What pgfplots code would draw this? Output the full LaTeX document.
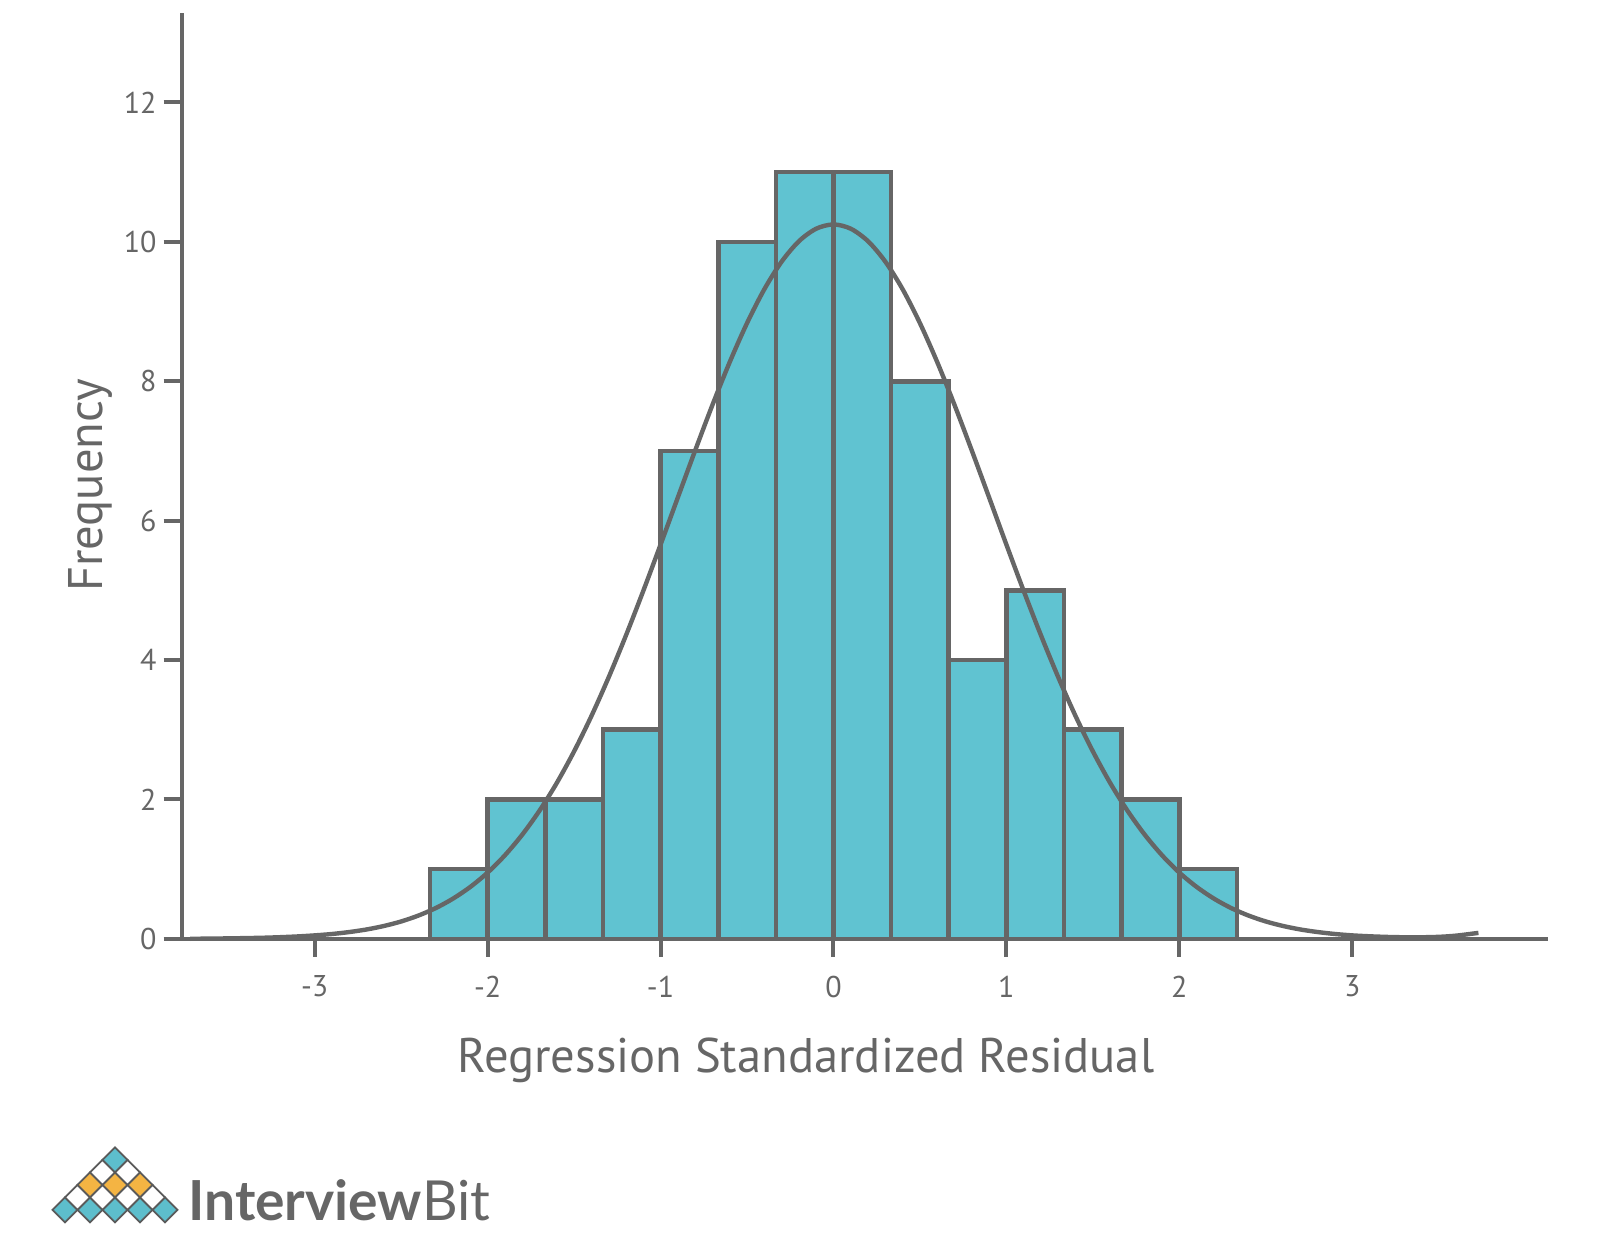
\documentclass[border=0pt]{standalone}
\usepackage{fontspec}
\setmainfont{PT Sans}
\newfontfamily\logofont{Lato}
\usepackage{pgfplots}
\pgfplotsset{compat=1.18}
\definecolor{gr}{HTML}{666666}
\definecolor{barc}{HTML}{60C3D1}
\definecolor{logot}{HTML}{5DBECC}
\definecolor{logoo}{HTML}{F4B443}
\definecolor{logod}{HTML}{5A5A5A}
\begin{document}
\begin{tikzpicture}
\useasboundingbox (-90.8bp,-160.6bp) rectangle (709.2bp,469.4bp);
\begin{axis}[
  at={(0,0)}, anchor=south west,
  scale only axis, width=683bp, height=462.75bp,
  xmin=-3.77, xmax=4.13, ymin=0, ymax=13.28,
  axis x line*=bottom, axis y line*=left,
  axis line style={draw=gr, line width=2bp},
  xtick={-3,-2,-1,0,1,2,3},
  xticklabels={-3,-2,-1,0,1,2,3},
  ytick={0,2,4,6,8,10,12},
  yticklabels={0,2,4,6,8,10,12},
  tick align=outside, major tick length=9bp,
  tick style={draw=gr, line width=2bp},
  ticklabel style={text=gr, font=\fontsize{15bp}{16bp}\selectfont},
  x tick label style={yshift=-6bp},
  xlabel={Regression Standardized Residual},
  ylabel={Frequency},
  label style={text=gr, font=\fontsize{24.3bp}{27bp}\selectfont},
  xlabel style={at={(axis description cs:0.457,0)}, anchor=center, yshift=-61bp},
  ylabel style={at={(axis description cs:-0.067,0.49)}, anchor=center},
  clip=false,
]
\addplot[ybar interval, fill=barc, draw=gr, line width=2.3bp] coordinates {
(-2.3333,1) (-2,2) (-1.6667,2) (-1.3333,3) (-1,7) (-0.6667,10) (-0.3333,11)
(0,11) (0.3333,8) (0.6667,4) (1,5) (1.3333,3) (1.6667,2) (2,1) (2.3333,1)
};
\addplot[draw=gr, line width=2.2bp, smooth, mark=none] coordinates {
(-3.72,0.00) (-3.6,0.003) (-3.5,0.006) (-3.4,0.010) (-3.3,0.015) (-3.2,0.023) (-3.1,0.034)
(-3.0,0.049) (-2.9,0.069) (-2.8,0.097) (-2.7,0.134) (-2.6,0.184) (-2.5,0.249)
(-2.4,0.334) (-2.3,0.441) (-2.2,0.577) (-2.1,0.745) (-2.0,0.950) (-1.9,1.199)
(-1.8,1.494) (-1.7,1.839) (-1.6,2.237) (-1.5,2.690) (-1.4,3.196) (-1.3,3.753)
(-1.2,4.354) (-1.1,4.992) (-1.0,5.656) (-0.9,6.333) (-0.8,7.006) (-0.7,7.660)
(-0.6,8.275) (-0.5,8.834) (-0.4,9.320) (-0.3,9.716) (-0.2,10.009) (-0.1,10.189)
(0,10.25) (0.1,10.189) (0.2,10.009) (0.3,9.716) (0.4,9.320) (0.5,8.834)
(0.6,8.275) (0.7,7.660) (0.8,7.006) (0.9,6.333) (1.0,5.656) (1.1,4.992)
(1.2,4.354) (1.3,3.753) (1.4,3.196) (1.5,2.690) (1.6,2.237) (1.7,1.839)
(1.8,1.494) (1.9,1.199) (2.0,0.950) (2.1,0.745) (2.2,0.577) (2.3,0.441)
(2.4,0.334) (2.5,0.249) (2.6,0.184) (2.7,0.134) (2.8,0.097) (2.9,0.069)
(3.0,0.049) (3.1,0.036) (3.2,0.027) (3.3,0.022) (3.4,0.022) (3.5,0.028)
(3.6,0.045) (3.73,0.085)
};
\end{axis}
% logo
\begin{scope}[shift={(-90.8bp,469.4bp)}, x=0.5bp, y=-0.5bp]
\foreach \X/\Y/\C in {65/1210/logot, 90/1210/logot, 115/1210/logot, 140/1210/logot, 165/1210/logot,
  77.5/1197.5/white, 102.5/1197.5/white, 127.5/1197.5/white, 152.5/1197.5/white,
  90/1185/logoo, 115/1185/logoo, 140/1185/logoo,
  102.5/1172.5/white, 127.5/1172.5/white,
  115/1160/logot}{
  \filldraw[fill=\C, draw=logod, line width=0.9bp]
    (\X-12.5,\Y) -- (\X,\Y-12.5) -- (\X+12.5,\Y) -- (\X,\Y+12.5) -- cycle;
}
\node[anchor=west, inner sep=0pt, text=gr, font=\logofont\fontsize{27.6bp}{30bp}\selectfont] at (188,1200) {\textbf{Interview}Bit};
\end{scope}
\end{tikzpicture}
\end{document}
